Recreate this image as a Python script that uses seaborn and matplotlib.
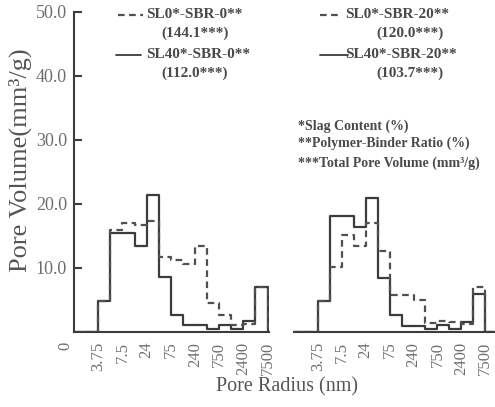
import numpy as np
import pandas as pd
import matplotlib
matplotlib.use("Agg")
import matplotlib.pyplot as plt
import matplotlib.transforms as mtransforms
import seaborn as sns

# Pore-radius class edges are labelled every second bin (nm)
radius_ticks = ["0", "3.75", "7.5", "24", "75", "240", "750", "2400", "7500"]

# Pore volume per radius class (mm^3/g), 16 classes each
sl0_sbr0 = [0, 0, 4.9, 16.0, 17.1, 16.7, 17.3, 11.7, 11.3, 10.6, 13.5, 4.6, 2.7, 1.1, 1.3, 7.1]
sl40_sbr0 = [0, 0, 4.9, 15.5, 15.5, 13.5, 21.4, 8.6, 2.7, 1.1, 1.1, 0.4, 1.1, 0.4, 1.7, 7.1]
sl0_sbr20 = [0, 0, 4.8, 10.1, 15.2, 13.5, 17.0, 12.6, 5.8, 5.8, 5.0, 1.4, 1.7, 1.6, 1.2, 7.0]
sl40_sbr20 = [0, 0, 4.8, 18.1, 18.1, 16.4, 21.0, 8.5, 2.7, 1.0, 1.0, 0.4, 1.1, 0.4, 1.5, 5.9]

# Mix names and total pore volumes (mm^3/g)
left_names = ["SL0*-SBR-0**", "SL40*-SBR-0**"]
left_totals = ["144.1", "112.0"]
right_names = ["SL0*-SBR-20**", "SL40*-SBR-20**"]
right_totals = ["120.0", "103.7"]

notes = ["*Slag Content (%)", "**Polymer-Binder Ratio (%)",
         "***Total Pore Volume (mm\u00b3/g)"]

y_ticks = [10, 20, 30, 40, 50]
y_tick_labels = ["10.0", "20.0", "30.0", "40.0", "50.0"]

sns.set_theme(style="white")
plt.rcParams["font.family"] = ["Liberation Serif", "DejaVu Serif"]

LINE = "#3c3c3c"
DASH = "#505050"
TXT = "#4a4a4a"
TICK_TXT = "#6e6e6e"
LW = 1.6

W, H = 495, 407
fig = plt.figure(figsize=(W / 100, H / 100), dpi=100)
fig.patch.set_facecolor("white")

y0_px, y1_px = 332, 12
ax_h = (y0_px - y1_px) / H
ax_b = (H - y0_px) / H

axL = fig.add_axes([74 / W, ax_b, 16.1 * 12.1 / W, ax_h])
axR = fig.add_axes([294 / W, ax_b, 16.7 * 11.95 / W, ax_h])


def series_frame(vals):
    # one row per radius class plus an empty closing class
    v = list(vals) + [0.0]
    return pd.DataFrame({"radius_bin": np.arange(len(v)) + 0.5,
                         "volume": np.asarray(v, dtype=float)})


def draw_panel(ax, dashed_vals, solid_vals):
    nb = len(solid_vals) + 1
    sns.histplot(data=series_frame(solid_vals), x="radius_bin",
                 weights="volume", bins=nb, binrange=(0, nb), element="step",
                 fill=False, color=LINE, linewidth=LW, ax=ax)
    sns.histplot(data=series_frame(dashed_vals), x="radius_bin",
                 weights="volume", bins=nb, binrange=(0, nb), element="step",
                 fill=False, color=DASH, linewidth=LW,
                 linestyle=(0, (3.0, 2.0)), ax=ax)
    ax.set_ylim(0, 50)
    ax.set_xlabel("")
    ax.set_ylabel("")
    ax.set_facecolor("white")
    for s in ("top", "right"):
        ax.spines[s].set_visible(False)
    ax.spines["bottom"].set_color(LINE)
    ax.spines["bottom"].set_linewidth(1.5)
    ax.tick_params(axis="x", length=0, pad=7, labelsize=12,
                   labelcolor=TICK_TXT, labelrotation=90)


draw_panel(axL, sl0_sbr0, sl40_sbr0)
draw_panel(axR, sl0_sbr20, sl40_sbr20)

# left panel axes
axL.set_xlim(0, 16.1)
axL.set_xticks(np.arange(0, 17, 2))
axL.set_xticklabels(radius_ticks, va="top")
axL.set_yticks(y_ticks)
axL.set_yticklabels(y_tick_labels)
axL.spines["left"].set_color(LINE)
axL.spines["left"].set_linewidth(1.5)
axL.tick_params(axis="y", direction="in", length=6, width=1.5, color=LINE,
                pad=5, labelsize=13, labelcolor=TICK_TXT, left=True)
zero_lab = axL.get_xticklabels()[0]
zero_lab.set_transform(zero_lab.get_transform() +
                       mtransforms.ScaledTranslation(-0.09, 0, fig.dpi_scale_trans))

# right panel axes
axR.set_xlim(0, 16.7)
axR.set_xticks(np.arange(2, 17, 2))
axR.set_xticklabels(radius_ticks[1:], va="top")
axR.spines["left"].set_visible(False)
axR.set_yticks([])


def draw_key(ax, names, totals, dash_x, solid_x, text_x, total_x):
    ys = [0.991, 0.866]
    ax.plot(dash_x, [ys[0], ys[0]], transform=ax.transAxes, clip_on=False,
            color=DASH, lw=LW, linestyle=(0, (3.0, 2.0)))
    ax.plot(solid_x, [ys[1], ys[1]], transform=ax.transAxes, clip_on=False,
            color=LINE, lw=1.3)
    for name, tot, y in zip(names, totals, ys):
        ax.text(text_x, y, name, transform=ax.transAxes, ha="left",
                va="center", fontsize=11, fontweight="bold", color=TXT)
        ax.text(total_x, y - 0.057, f"({tot}***)", transform=ax.transAxes,
                ha="center", va="center", fontsize=11, fontweight="bold",
                color=TXT)


draw_key(axL, left_names, left_totals, [0.224, 0.354], [0.214, 0.345],
         0.370, 0.620)
draw_key(axR, right_names, right_totals, [0.13, 0.23], [0.13, 0.272],
         0.258, 0.58)

for note, y in zip(notes, [0.644, 0.591, 0.528]):
    axR.text(0.02, y, note, transform=axR.transAxes, ha="left", va="center",
             fontsize=10, fontweight="bold", color=TXT)

fig.text(20 / W, 1 - 160 / H, "Pore Volume(mm\u00b3/g)", rotation=90,
         ha="center", va="center", fontsize=19, color="#555555")
fig.text(287 / W, 1 - 387 / H, "Pore Radius (nm)", ha="center",
         va="center", fontsize=14.5, color="#555555")

fig.savefig("out.png", dpi=100, facecolor="white")
